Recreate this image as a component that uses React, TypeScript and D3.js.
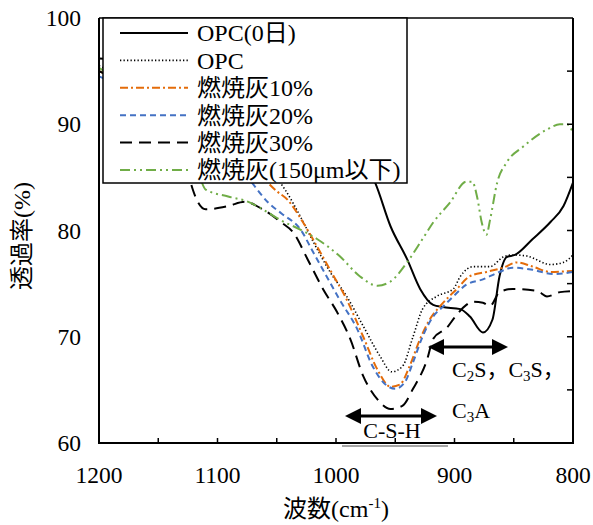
import React from "react";
import * as d3 from "d3";

const opc0Wn = [1200, 1150, 1100, 1050, 1000, 980, 967, 954, 940, 929, 918, 910, 895, 887, 876, 868, 862, 856, 849, 834, 819, 808, 800];
const opc0T = [96.2, 95.8, 95, 93.5, 90.5, 87, 84.5, 80.4, 77.3, 74.5, 73.0, 72.8, 72.6, 71.9, 70.4, 71.6, 75.7, 77.5, 77.7, 79.2, 80.8, 82.3, 84.5];

const opcWn = [1200, 1150, 1100, 1070, 1043, 1030, 1019, 1005, 991, 977, 963, 953, 944, 935, 927, 915, 901, 895, 884, 870, 859, 851, 839, 819, 808, 800];
const opcT = [95.5, 93, 90, 87, 83.85, 81.3, 78.9, 76.1, 73.8, 71.0, 68.2, 66.7, 67.2, 70.0, 72.6, 73.8, 74.5, 75.7, 76.6, 76.6, 77.5, 77.7, 77.6, 76.8, 77.0, 77.7];

const ash10Wn = [1200, 1150, 1100, 1070, 1050, 1041, 1028, 1016, 1005, 991, 977, 965, 954, 946, 938, 929, 921, 912, 898, 887, 873, 859, 847, 834, 819, 800];
const ash10T = [95, 92.5, 89.5, 86, 83.7, 82.9, 80.8, 78.5, 76.3, 73.5, 70.0, 66.9, 65.3, 65.5, 67.2, 69.8, 71.6, 72.9, 74.5, 75.7, 76.1, 76.5, 77.0, 76.6, 76.1, 76.2];

const ash20Wn = [1200, 1150, 1100, 1071, 1057, 1046, 1030, 1019, 1008, 997, 982, 969, 957, 950, 942, 935, 927, 918, 910, 901, 890, 876, 862, 851, 834, 817, 800];
const ash20T = [94.5, 92, 88.5, 84.5, 82.6, 81.6, 80.1, 77.9, 75.7, 73.5, 70.7, 67.2, 65.4, 65.1, 65.7, 67.6, 70.0, 71.9, 72.8, 73.8, 74.9, 75.4, 76.1, 76.5, 76.3, 75.9, 76.1];

const ash30Wn = [1200, 1160, 1135, 1125, 1121, 1110, 1091, 1077, 1062, 1046, 1036, 1024, 1011, 999, 988, 977, 965, 954, 944, 935, 923, 918, 906, 900, 890, 885, 876, 870, 862, 851, 830, 822, 811, 800];
const ash30T = [95, 92, 88, 85.5, 83.9, 82.0, 82.3, 82.7, 82.0, 80.75, 79.8, 77.3, 74.5, 72.3, 69.8, 66.3, 64.1, 63.2, 63.5, 65.1, 67.9, 69.8, 70.9, 71.8, 73.0, 73.3, 73.2, 72.9, 74.2, 74.5, 74.3, 73.8, 74.2, 74.3];

const ashFineWn = [1200, 1160, 1130, 1115, 1110, 1091, 1074, 1062, 1043, 1036, 1016, 997, 980, 965, 954, 940, 927, 918, 904, 890, 885, 881, 877, 873, 870, 864, 856, 842, 822, 811, 805, 800];
const ashFineT = [95.3, 92, 88, 85, 83.85, 83.2, 82.7, 82.0, 80.75, 80.4, 79.2, 77.6, 75.7, 74.8, 75.2, 77.0, 79.2, 80.75, 82.6, 84.6, 84.6, 83.2, 80.75, 79.6, 81.0, 84.5, 86.4, 87.9, 89.5, 90.0, 90.0, 89.2];

const seriesNames = ["OPC(0日)", "OPC", "燃焼灰10%", "燃焼灰20%", "燃焼灰30%", "燃焼灰(150μm以下)"];
const xTickLabels = [1200, 1100, 1000, 900, 800];
const yTickLabels = [100, 90, 80, 70, 60];

const TF: React.CSSProperties = { fontFamily: "Liberation Serif, Noto Sans CJK JP, serif" };

const styles = [
  { color: "#000000", dash: "none", width: 2 },
  { color: "#000000", dash: "1.3,2.2", width: 1.6 },
  { color: "#E46C0A", dash: "8,3,2,3", width: 2 },
  { color: "#4472C4", dash: "6,4", width: 2 },
  { color: "#000000", dash: "12,7", width: 2 },
  { color: "#70AD47", dash: "10,4,2,4,2,4", width: 2 },
];

export default function App() {
  const W = 593, H = 525;
  const L = 99, T = 18, R = 573, B = 443;
  const x = d3.scaleLinear().domain([1200, 800]).range([L, R]);
  const y = d3.scaleLinear().domain([60, 100]).range([B, T]);

  const data = [
    [opc0Wn, opc0T],
    [opcWn, opcT],
    [ash10Wn, ash10T],
    [ash20Wn, ash20T],
    [ash30Wn, ash30T],
    [ashFineWn, ashFineT],
  ].map(([w, t]) => w.map((wv, i) => [wv, t[i]] as [number, number]));

  const line = d3
    .line<[number, number]>()
    .x((d) => x(d[0]))
    .y((d) => y(d[1]))
    .curve(d3.curveMonotoneX);

  const xMinor = d3.range(1150, 800, -50);
  const yMinor = d3.range(65, 100, 5);

  const legX = 103, legY = T, legW = 304, legH = 165;
  const rowY = (i: number) => legY + 15 + i * 27.4;

  const arrow = (x1: number, x2: number, yy: number) => (
    <g>
      <line x1={x1 + 14} x2={x2 - 14} y1={yy} y2={yy} stroke="#000" strokeWidth={3} />
      <path d={`M${x1},${yy} l16,-8 v16 z`} fill="#000" />
      <path d={`M${x2},${yy} l-16,-8 v16 z`} fill="#000" />
    </g>
  );

  return (
    <svg width={W} height={H} style={{ display: "block", position: "absolute", left: 0, top: 0, ...TF }}>
      <rect x={0} y={0} width={W} height={H} fill="#fff" />
      <defs>
        <clipPath id="plotClip">
          <rect x={L} y={T} width={R - L} height={B - T} />
        </clipPath>
      </defs>
      <g clipPath="url(#plotClip)">
        {data.map((d, i) => (
          <path
            key={i}
            d={line(d) || ""}
            fill="none"
            stroke={styles[i].color}
            strokeWidth={styles[i].width}
            strokeDasharray={styles[i].dash}
          />
        ))}
      </g>
      <line x1={L} y1={T} x2={R} y2={T} stroke="#000" strokeWidth={1.5} />
      <line x1={L} y1={T} x2={L} y2={B} stroke="#000" strokeWidth={2} />
      <line x1={R} y1={T} x2={R} y2={B} stroke="#000" strokeWidth={2} />
      <line x1={L - 1} y1={B} x2={R + 1} y2={B} stroke="#000" strokeWidth={2} />
      {xMinor.map((v) => (
        <line key={v} x1={x(v)} y1={B} x2={x(v)} y2={B - 5} stroke="#000" strokeWidth={1.5} />
      ))}
      {yMinor.map((v) => (
        <line key={v} x1={R} y1={y(v)} x2={R - 6} y2={y(v)} stroke="#000" strokeWidth={1.5} />
      ))}
      {yTickLabels.map((v) => (
        <text key={v} x={81} y={y(v)} dy="0.35em" textAnchor="end" fontSize={23.5} style={TF}>
          {v}
        </text>
      ))}
      {xTickLabels.map((v) => (
        <text key={v} x={x(v)} y={475} dy="0.35em" textAnchor="middle" fontSize={23.5} style={TF}>
          {v}
        </text>
      ))}
      <text transform={`translate(22,236) rotate(-90)`} textAnchor="middle" dy="0.35em" fontSize={24} style={TF}>
        透過率(%)
      </text>
      <text x={(L + R) / 2} y={517} textAnchor="middle" fontSize={24} style={TF}>
        波数(cm<tspan fontSize={15} dy={-9}>-1</tspan>
        <tspan dy={9}>)</tspan>
      </text>
      <rect x={legX} y={legY} width={legW} height={legH} fill="#fff" stroke="#000" strokeWidth={1.5} />
      {seriesNames.map((n, i) => (
        <g key={n}>
          <line
            x1={120}
            x2={188}
            y1={rowY(i)}
            y2={rowY(i)}
            stroke={styles[i].color}
            strokeWidth={styles[i].width}
            strokeDasharray={styles[i].dash}
          />
          <text x={197} y={rowY(i)} dy="0.35em" fontSize={24} style={TF}>
            {n}
          </text>
        </g>
      ))}
      {arrow(428, 508, 347)}
      <text x={452} y={377} fontSize={22} style={TF}>
        C<tspan fontSize={15} dy={4}>2</tspan>
        <tspan dy={-4}>S，C</tspan>
        <tspan fontSize={15} dy={4}>3</tspan>
        <tspan dy={-4}>S，</tspan>
      </text>
      <text x={452} y={418} fontSize={22} style={TF}>
        C<tspan fontSize={15} dy={4}>3</tspan>
        <tspan dy={-4}>A</tspan>
      </text>
      {arrow(345, 437, 416)}
      <text x={392} y={438} textAnchor="middle" fontSize={22} style={TF}>
        C-S-H
      </text>
      <line x1={342} x2={448} y1={446} y2={446} stroke="#888" strokeWidth={1.5} />
    </svg>
  );
}
